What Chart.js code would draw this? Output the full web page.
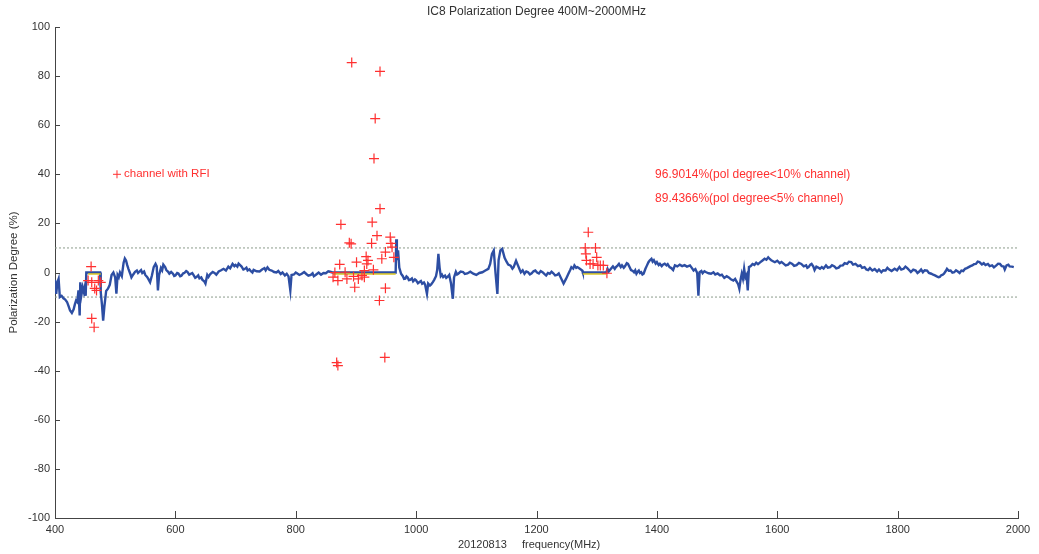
<!DOCTYPE html>
<html lang="en">
<head>
    <meta charset="UTF-8">
    <title>IC8 Polarization Degree 400M~2000MHz</title>
    <style>
        body {
            margin: 0;
            padding: 0;
            background: #fff;
            overflow: hidden;
        }
    </style>
</head>
<body>
    <canvas id="polChart" width="1039" height="554"></canvas>

    <script src="https://cdn.jsdelivr.net/npm/chart.js"></script>
    <script>
        // Polarization degree per channel (blue trace)
        const freqMHz = [
            400, 402, 404, 406, 408, 411, 414, 417, 420, 423,
            425, 428, 431, 433, 435, 437, 439, 441, 442, 444,
            446, 448, 450, 451, 452, 463, 475, 476, 478, 480,
            482, 485, 488, 491, 494, 497, 500, 502, 504, 506,
            508, 511, 514, 516, 518, 520, 522, 525, 527, 530,
            533, 536, 538, 540, 543, 545, 548, 550, 553, 555,
            558, 561, 564, 567, 569, 571, 573, 576, 578, 580,
            583, 585, 588, 590, 593, 596, 598, 600, 603, 605,
            608, 610, 613, 615, 618, 620, 623, 625, 628, 630,
            633, 635, 638, 640, 643, 645, 648, 650, 653, 655,
            658, 662, 665, 668, 672, 676, 680, 684, 688, 691,
            695, 698, 700, 703, 705, 708, 710, 713, 715, 718,
            720, 723, 725, 728, 730, 735, 740, 744, 748, 750,
            753, 756, 760, 764, 768, 771, 775, 778, 782, 785,
            788, 791, 793, 797, 800, 802, 806, 810, 814, 818,
            821, 825, 828, 830, 833, 835, 838, 842, 846, 850,
            854, 857, 861, 966, 967, 968, 970, 972, 975, 978,
            980, 982, 984, 986, 988, 990, 993, 995, 998, 1000,
            1003, 1005, 1008, 1010, 1013, 1015, 1018, 1020, 1023, 1025,
            1028, 1030, 1033, 1035, 1037, 1039, 1041, 1043, 1045, 1048,
            1050, 1053, 1055, 1058, 1061, 1063, 1066, 1068, 1070, 1074,
            1078, 1081, 1085, 1090, 1095, 1100, 1105, 1110, 1115, 1120,
            1123, 1126, 1129, 1132, 1135, 1137, 1140, 1143, 1147, 1150,
            1153, 1157, 1160, 1162, 1166, 1169, 1172, 1174, 1177, 1180,
            1183, 1186, 1189, 1192, 1195, 1198, 1201, 1204, 1207, 1210,
            1213, 1216, 1219, 1222, 1225, 1228, 1231, 1234, 1237, 1240,
            1245, 1249, 1253, 1256, 1258, 1261, 1263, 1266, 1268, 1272,
            1276, 1277, 1316, 1318, 1320, 1322, 1325, 1327, 1330, 1332,
            1335, 1337, 1340, 1342, 1345, 1347, 1350, 1352, 1355, 1357,
            1360, 1362, 1364, 1366, 1368, 1370, 1372, 1374, 1376, 1378,
            1381, 1383, 1386, 1388, 1391, 1393, 1395, 1398, 1400, 1403,
            1405, 1408, 1410, 1413, 1416, 1418, 1421, 1424, 1427, 1430,
            1434, 1438, 1442, 1446, 1450, 1455, 1458, 1461, 1464, 1467,
            1469, 1471, 1474, 1476, 1479, 1482, 1486, 1490, 1494, 1497,
            1501, 1505, 1508, 1512, 1516, 1520, 1523, 1527, 1530, 1532,
            1535, 1537, 1539, 1541, 1543, 1545, 1547, 1549, 1551, 1553,
            1556, 1559, 1562, 1565, 1568, 1572, 1575, 1579, 1582, 1585,
            1588, 1590, 1593, 1596, 1600, 1604, 1607, 1611, 1614, 1618,
            1621, 1625, 1628, 1632, 1636, 1640, 1644, 1648, 1650, 1652,
            1655, 1657, 1660, 1662, 1665, 1668, 1671, 1674, 1677, 1681,
            1684, 1688, 1691, 1695, 1698, 1702, 1705, 1709, 1712, 1716,
            1719, 1723, 1726, 1730, 1734, 1738, 1741, 1745, 1748, 1751,
            1754, 1758, 1762, 1766, 1769, 1773, 1776, 1780, 1783, 1786,
            1790, 1795, 1799, 1803, 1806, 1810, 1813, 1816, 1819, 1822,
            1826, 1830, 1833, 1836, 1839, 1842, 1845, 1849, 1852, 1856,
            1859, 1862, 1865, 1868, 1870, 1872, 1875, 1877, 1880, 1882,
            1885, 1888, 1891, 1894, 1897, 1900, 1903, 1906, 1909, 1912,
            1915, 1918, 1921, 1924, 1927, 1930, 1933, 1936, 1940, 1943,
            1946, 1950, 1953, 1957, 1960, 1964, 1967, 1970, 1973, 1976,
            1978, 1981, 1984, 1986, 1990, 1993
        ];
        const polDeg = [
            -3, -8.7, -4, -2.6, -10, -9.5, -10.5, -11, -12, -14,
            -15.5, -16.5, -15, -13, -11.4, -12, -7.3, -17.5, -4, -9,
            -6, -8, -5.3, -9.5, 0, 0, 0, -8, -13, -19.6,
            -14, -7.5, -6.6, -5, -1, 0, -2, -8.6, -1, -1.9,
            0, -1.5, 4, 5.7, 4.9, 3, 1.5, -0.5, -2, -0.8,
            0.3, 0.8, -0.2, 0.3, 1, -0.2, 0.4, -1, -1.8, -2.6,
            -4, -1.2, 2.2, 3.5, 2.5, -7.3, -1, 1.8, 0.9, 3.2,
            2.2, 1, 0.3, -0.5, 0.2, -0.5, -1.4, -1.2, -0.2, -0.4,
            -1.5, -1.3, -0.3, -0.2, 0.6, 0.3, -0.9, -0.6, -0.2, -1,
            -2.2, -1.9, -1.2, -2.4, -2, -3, -3.6, -4.5, -1, -1.8,
            -0.6, 0.2, -0.2, -0.9, 0.4, 0.9, 1.5, 0.8, 2.4, 1.7,
            3.5, 2.6, 3.1, 2.4, 3.6, 2.9, 2.4, 1.2, 1.4, 2,
            0.8, 1.3, 0.6, 0, 1.1, 0.5, 0.4, 1.2, 1.8, 0.9,
            2.1, 1.1, 0.8, 0.2, 0, 0.6, -0.6, 0, -1.2, -0.5,
            -1.6, -7.3, -1, -0.8, 0, -0.3, -1, -0.5, 0.2, -0.7,
            -1.3, -1, -0.3, -1.5, -1, -0.6, 0, -0.9, -0.2, -0.3,
            0.5, 0.3, 0, 0, 13.5, 5, 9, 2, -0.5, -1.5,
            -2.6, -2.5, -1.6, -2, -3.1, -3, -2.4, -3.6, -2.8, -3.2,
            -4.4, -4, -3.5, -4.6, -4.1, -5, -8.7, -4.5, -5.3, -4.9,
            -3.8, -3, -1.5, 1, 7.6, 2, -1.5, -0.9, -1.9, -1.3,
            -2.2, -1.6, -1, -4.5, -10.7, -2, 0.3, -0.8, -0.5, 0.4,
            0.2, -0.6, -0.4, 0.3, -0.5, -1, -0.2, 0.1, 0.8, 1.5,
            3.5, 7.6, 9, -0.5, -8.7, 5, 9, 9.6, 6, 4.5,
            3.2, 2.8, 1.6, 2.2, 4.8, 3, 1.2, 0.1, 0.9, -0.5,
            0.4, 0.1, -0.8, -0.3, 0.5, 0.8, 0, -0.4, 0.6, 0.1,
            -0.6, -1.2, -0.2, -0.5, 0.3, -0.3, -1.2, -1, -0.4, -1.9,
            -4.5, -2.6, -0.5, 1, 2.2, 1.6, 2.9, 1.9, 2.2, 1.5,
            0.8, 0, 0, 1.5, 0.4, 1, 1.9, 2.5, 1.5, 2.2,
            2.9, 3.5, 2.2, 2.9, 1.9, 2.5, 3.8, 3.5, 2, 1,
            0.6, 0.1, 0.9, -0.5, 0.3, 0.8, -0.2, 0.1, -0.8, -0.5,
            1.5, 2.6, 4.2, 4.9, 5.6, 4.4, 5, 3.6, 4.2, 3,
            3.5, 2.6, 3.2, 3.6, 2.9, 3.4, 2.2, 1.8, 1, 2.9,
            2.5, 3.2, 2.6, 3, 2.4, 2.9, 1.9, 0.8, 1.4, -0.2,
            -9.4, 0.1, 0.6, -0.3, 0.5, 0.1, -0.3, -0.5, 0.1, -0.8,
            -0.4, -1.2, -0.9, -2.2, -1.5, -2.1, -2.8, -3.3, -2.6, -3.5,
            -4.8, -6.6, -3, -0.5, -2.5, 1.5, -2, -1, -7.3, 2.2,
            2.6, 3.5, 3.1, 4, 3.4, 4.2, 4.8, 5.6, 5.2, 6.2,
            5.4, 5, 4.6, 4.2, 4.8, 3.8, 4.3, 3.5, 2.9, 3.2,
            4, 3.5, 2.7, 3, 3.9, 3.5, 2.5, 2.9, 1.9, 2.2,
            3.2, 3.5, 2.4, 1, 2.4, 2, 1.5, 2.2, 1.6, 2.9,
            2, 2.2, 3, 2.5, 1.7, 2, 2.8, 2.9, 3.8, 3.5,
            4.4, 4.2, 3.2, 3.5, 2.6, 2.9, 1.9, 2.2, 1.2, 1,
            1.8, 0.8, 1.4, 0.4, 1.2, 0.1, 0.9, 0.8, 1.9, 1.2,
            0.6, 1.5, 0.9, 2.2, 1.2, 1.5, 2.4, 1.8, 1, 0.2,
            1.2, 0.8, -0.2, 0.4, 1.2, 0.1, 0.9, 0.8, -0.2, -0.5,
            -0.9, -1.2, -1.6, -1.9, -1.8, -1.2, -0.9, -0.5, 0.6, 1.5,
            0.7, 0.8, -0.1, 0.1, 0.9, 0.4, -0.2, 0.8, 0.6, 1.5,
            1.8, 2.2, 2.6, 2.9, 3.4, 3.5, 4.4, 4.2, 3.3, 3.8,
            3, 3.5, 2.6, 2.9, 2.1, 2.9, 3.6, 3.5, 2.6, 2.5,
            1.2, 2.9, 3.2, 2.5, 2.4, 2.2
        ];

        // Channels flagged with RFI (red crosses)
        const rfiFreq = [
            460, 455, 461, 472, 476, 466, 469, 461, 465,
            893, 940, 932, 930, 940, 927, 875, 935, 957, 889,
            892, 926, 958, 949, 960, 963, 943, 917, 920, 901,
            873, 918, 929, 914, 882, 865, 862, 870, 885, 904,
            910, 898, 949, 939, 948, 868, 870, 914, 896,
            1286, 1281, 1298, 1282, 1300, 1283, 1289, 1294, 1302, 1306,
            1311, 1317
        ];
        const rfiPol = [
            2.4, -3.3, -4, -3.3, -4, -6.5, -7.3, -18.7, -22.3,
            85.5, 81.9, 62.7, 46.4, 26, 20.5, 19.6, 15, 14.4, 12.1,
            11.7, 11.9, 11.9, 8.3, 10.3, 6.2, 5.6, 6.5, 4.9, 4.2,
            3.3, 3.5, 1.1, 0.8, 0.1, 0, -1.9, -3.3, -2.6, -2.6,
            -1.2, -6, -6.4, -11.4, -34.6, -36.7, -37.9, -1.9, -1.6,
            16.4, 10, 10, 7.6, 6.2, 4.9, 3.5, 3.5, 2.9, 2.9,
            2.9, -0.3
        ];

        // Masked RFI bands (yellow bars) and threshold lines
        const maskStart = [455, 862, 1277];
        const maskEnd = [476, 966, 1316];
        const thresholds = [10, -10];
        const yTicks = [-100, -80, -60, -40, -20, 0, 20, 40, 60, 80, 100];
        const xTicks = [400, 600, 800, 1000, 1200, 1400, 1600, 1800, 2000];

        const FONT = '"Liberation Sans", Arial, sans-serif';
        const RED = '#ff3030';

        const datasets = [];
        datasets.push({
            label: 'RFI',
            data: rfiFreq.map((f, i) => ({ x: f, y: rfiPol[i] })),
            showLine: false,
            pointStyle: 'cross',
            pointRadius: 5,
            borderColor: RED,
            borderWidth: 1.2,
            order: 0
        });
        maskStart.forEach((s, i) => {
            datasets.push({
                label: 'mask' + i,
                data: [{ x: s, y: -0.6 }, { x: maskEnd[i], y: -0.6 }],
                showLine: true,
                borderColor: '#d8c420',
                borderWidth: 1.5,
                pointRadius: 0,
                order: 1
            });
        });
        datasets.push({
            label: 'pol',
            data: freqMHz.map((f, i) => ({ x: f, y: polDeg[i] })),
            showLine: true,
            borderColor: '#2d4ea3',
            borderWidth: 2.4,
            pointRadius: 0,
            tension: 0,
            order: 2
        });
        thresholds.forEach(t => {
            datasets.push({
                label: 'thr' + t,
                data: [{ x: 400, y: t }, { x: 2000, y: t }],
                showLine: true,
                borderColor: '#8c9c8c',
                borderWidth: 1,
                borderDash: [2, 2],
                pointRadius: 0,
                order: 3
            });
        });

        // Matlab-like decorations: title, axis labels, inward ticks, notes
        const decorations = {
            id: 'decorations',
            afterDraw(chart) {
                const ctx = chart.ctx;
                const area = chart.chartArea;
                const xs = chart.scales.x;
                const ys = chart.scales.y;
                ctx.save();

                ctx.strokeStyle = '#444';
                ctx.lineWidth = 1;
                ctx.beginPath();
                yTicks.forEach(v => {
                    const py = Math.round(ys.getPixelForValue(v)) + 0.5;
                    ctx.moveTo(area.left, py);
                    ctx.lineTo(area.left + 5, py);
                });
                xTicks.forEach(v => {
                    const px = Math.round(xs.getPixelForValue(v)) + 0.5;
                    ctx.moveTo(px, area.bottom);
                    ctx.lineTo(px, area.bottom - 7);
                });
                ctx.stroke();

                ctx.fillStyle = '#333';
                ctx.font = '12px ' + FONT;
                ctx.textAlign = 'center';
                ctx.textBaseline = 'middle';
                ctx.fillText('IC8 Polarization Degree 400M~2000MHz', (area.left + area.right) / 2, 12);

                ctx.font = '11px ' + FONT;
                ctx.textAlign = 'left';
                ctx.fillText('20120813', area.left + 403, area.bottom + 27);
                ctx.fillText('frequency(MHz)', area.left + 467, area.bottom + 27);

                ctx.save();
                ctx.font = '11.5px ' + FONT;
                ctx.translate(14, (area.top + area.bottom) / 2);
                ctx.rotate(-Math.PI / 2);
                ctx.textAlign = 'center';
                ctx.fillText('Polarization Degree (%)', 0, 0);
                ctx.restore();

                ctx.fillStyle = RED;
                ctx.strokeStyle = RED;
                const lx = xs.getPixelForValue(503);
                const ly = ys.getPixelForValue(40);
                ctx.beginPath();
                ctx.moveTo(lx - 4, ly);
                ctx.lineTo(lx + 4, ly);
                ctx.moveTo(lx, ly - 4);
                ctx.lineTo(lx, ly + 4);
                ctx.stroke();
                ctx.font = '11.5px ' + FONT;
                ctx.textAlign = 'left';
                ctx.fillText('channel with RFI', lx + 7, ly);

                ctx.font = '12px ' + FONT;
                const tx = xs.getPixelForValue(1397);
                ctx.fillText('96.9014%(pol degree<10% channel)', tx, ys.getPixelForValue(40));
                ctx.fillText('89.4366%(pol degree<5% channel)', tx, ys.getPixelForValue(30));
                ctx.restore();
            }
        };

        const ctxPol = document.getElementById('polChart').getContext('2d');
        const polChart = new Chart(ctxPol, {
            type: 'scatter',
            data: { datasets: datasets },
            options: {
                responsive: false,
                animation: false,
                layout: { padding: { top: 27, right: 21, left: 0, bottom: 0 } },
                plugins: {
                    legend: { display: false },
                    tooltip: { enabled: false }
                },
                scales: {
                    x: {
                        type: 'linear',
                        min: 400,
                        max: 2000,
                        afterFit: s => { s.height = 36; },
                        afterBuildTicks: s => { s.ticks = xTicks.map(v => ({ value: v })); },
                        grid: { display: false, drawTicks: false },
                        border: { display: true, color: '#444', width: 1 },
                        ticks: {
                            padding: 5,
                            color: '#333',
                            maxRotation: 0,
                            callback: v => String(v),
                            font: { family: FONT, size: 11 }
                        }
                    },
                    y: {
                        type: 'linear',
                        min: -100,
                        max: 100,
                        afterFit: s => { s.width = 55; },
                        afterBuildTicks: s => { s.ticks = yTicks.map(v => ({ value: v })); },
                        grid: { display: false, drawTicks: false },
                        border: { display: true, color: '#444', width: 1 },
                        ticks: {
                            padding: 5,
                            color: '#333',
                            callback: v => String(v),
                            font: { family: FONT, size: 11 }
                        }
                    }
                }
            },
            plugins: [decorations]
        });
    </script>
</body>
</html>
